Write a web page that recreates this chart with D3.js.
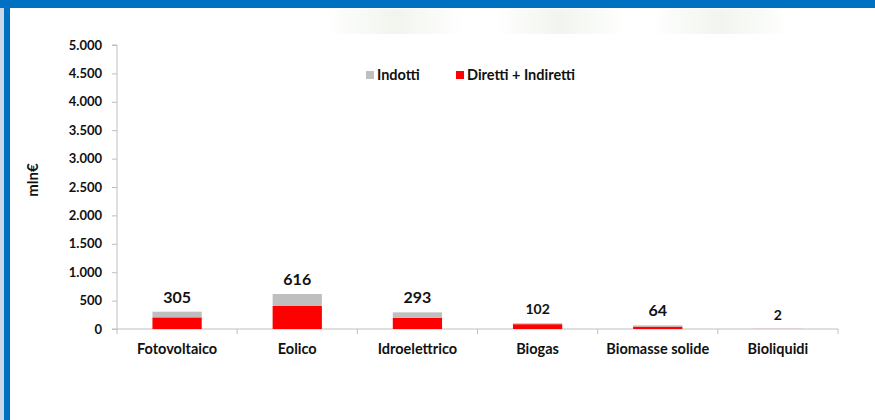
<!DOCTYPE html>
<html><head><meta charset="utf-8">
<script src="https://cdn.jsdelivr.net/npm/d3@7"></script>
<style>body{margin:0;background:#fff}svg{display:block}text{font-family:Lato,"Open Sans",sans-serif;font-weight:bold;fill:#111}</style>
</head><body><svg id="c" width="875" height="420"></svg>
<script>
const categories = ["Fotovoltaico","Eolico","Idroelettrico","Biogas","Biomasse solide","Bioliquidi"];
const diretti = [205, 405, 195, 85, 42, 1];
const indotti = [100, 211, 98, 17, 22, 1];
const totals = [305, 616, 293, 102, 64, 2];
const yTicks = [0,500,1000,1500,2000,2500,3000,3500,4000,4500,5000];
const seriesNames = ["Indotti","Diretti + Indiretti"];
const colors = {ind:"#BFBFBF", dir:"#FF0000"};

const svg = d3.select("#c");
// frame
svg.append("rect").attr("x",0).attr("y",0).attr("width",4).attr("height",420).attr("fill","#c9d7e6");
svg.append("rect").attr("x",4).attr("y",0).attr("width",6).attr("height",420).attr("fill","#0070C0");
svg.append("rect").attr("x",0).attr("y",0).attr("width",875).attr("height",8).attr("fill","#0070C0");
// faint green background blobs
const defs = svg.append("defs");
const g = defs.append("linearGradient").attr("id","gb");
g.append("stop").attr("offset","0").attr("stop-color","#f1f5ee").attr("stop-opacity",0);
g.append("stop").attr("offset","0.5").attr("stop-color","#f1f5ee").attr("stop-opacity",1);
g.append("stop").attr("offset","1").attr("stop-color","#f1f5ee").attr("stop-opacity",0);
[[325,140],[495,130],[650,140]].forEach(([x,w])=>{
  svg.append("rect").attr("x",x).attr("y",9).attr("width",w).attr("height",25).attr("fill","url(#gb)");
});

const x = d3.scaleBand().domain(categories).range([117,838]).paddingInner(0.59).paddingOuter(0.295);
const y = d3.scaleLinear().domain([0,5000]).range([329,45]);

const fmt = v => d3.format(",")(v).replace(/,/g,".");

// y axis
const ya = svg.append("g").attr("transform","translate(117,0)")
  .call(d3.axisLeft(y).tickValues(yTicks).tickFormat(fmt).tickSize(5).tickPadding(10));
ya.select(".domain").attr("stroke","#bfbfbf").attr("d","M-5,45H0V329H-5");
ya.selectAll(".tick line").attr("stroke","#bfbfbf");
ya.selectAll("text").style("font-size","13px").style("font-family","Lato,sans-serif").style("font-weight","bold").attr("fill","#111");

// x axis
const xa = svg.append("g").attr("transform","translate(0,329)");
xa.append("line").attr("x1",117).attr("x2",838).attr("stroke","#bfbfbf");
const bounds = [117, ...categories.map(c => x(c) + x.bandwidth()/2 + x.step()/2)];
xa.selectAll("line.t").data(bounds).join("line").attr("class","t")
  .attr("x1",d=>d).attr("x2",d=>d).attr("y1",0).attr("y2",5).attr("stroke","#bfbfbf");
xa.selectAll("text").data(categories).join("text")
  .attr("x",d=>x(d)+x.bandwidth()/2).attr("y",25).attr("text-anchor","middle")
  .style("font-size","14.5px").text(d=>d);

// bars
svg.selectAll("rect.dir").data(categories).join("rect").attr("class","dir")
  .attr("x",d=>x(d)).attr("width",x.bandwidth())
  .attr("y",(d,i)=>y(diretti[i])).attr("height",(d,i)=>y(0)-y(diretti[i]))
  .attr("fill",colors.dir);
svg.selectAll("rect.ind").data(categories).join("rect").attr("class","ind")
  .attr("x",d=>x(d)).attr("width",x.bandwidth())
  .attr("y",(d,i)=>y(diretti[i]+indotti[i])).attr("height",(d,i)=>y(diretti[i])-y(diretti[i]+indotti[i]))
  .attr("fill",colors.ind);

// totals
const lblSize = [16,16,16,14,16,14];
svg.selectAll("text.tot").data(categories).join("text").attr("class","tot")
  .attr("x",d=>x(d)+x.bandwidth()/2).attr("y",(d,i)=>y(totals[i])-9)
  .attr("text-anchor","middle").style("font-size",(d,i)=>lblSize[i]+"px").text((d,i)=>totals[i]);

// legend
const leg = [{n:seriesNames[0],c:colors.ind,x:366},{n:seriesNames[1],c:colors.dir,x:456}];
leg.forEach(l=>{
  svg.append("rect").attr("x",l.x).attr("y",71).attr("width",8).attr("height",8).attr("fill",l.c);
  svg.append("text").attr("x",l.x+11).attr("y",79.5).style("font-size","14.5px").text(l.n);
});

// y label
svg.append("text").attr("transform","translate(38,180) rotate(-90)").attr("text-anchor","middle")
  .style("font-size","15px").text("mln€");
</script></body></html>
